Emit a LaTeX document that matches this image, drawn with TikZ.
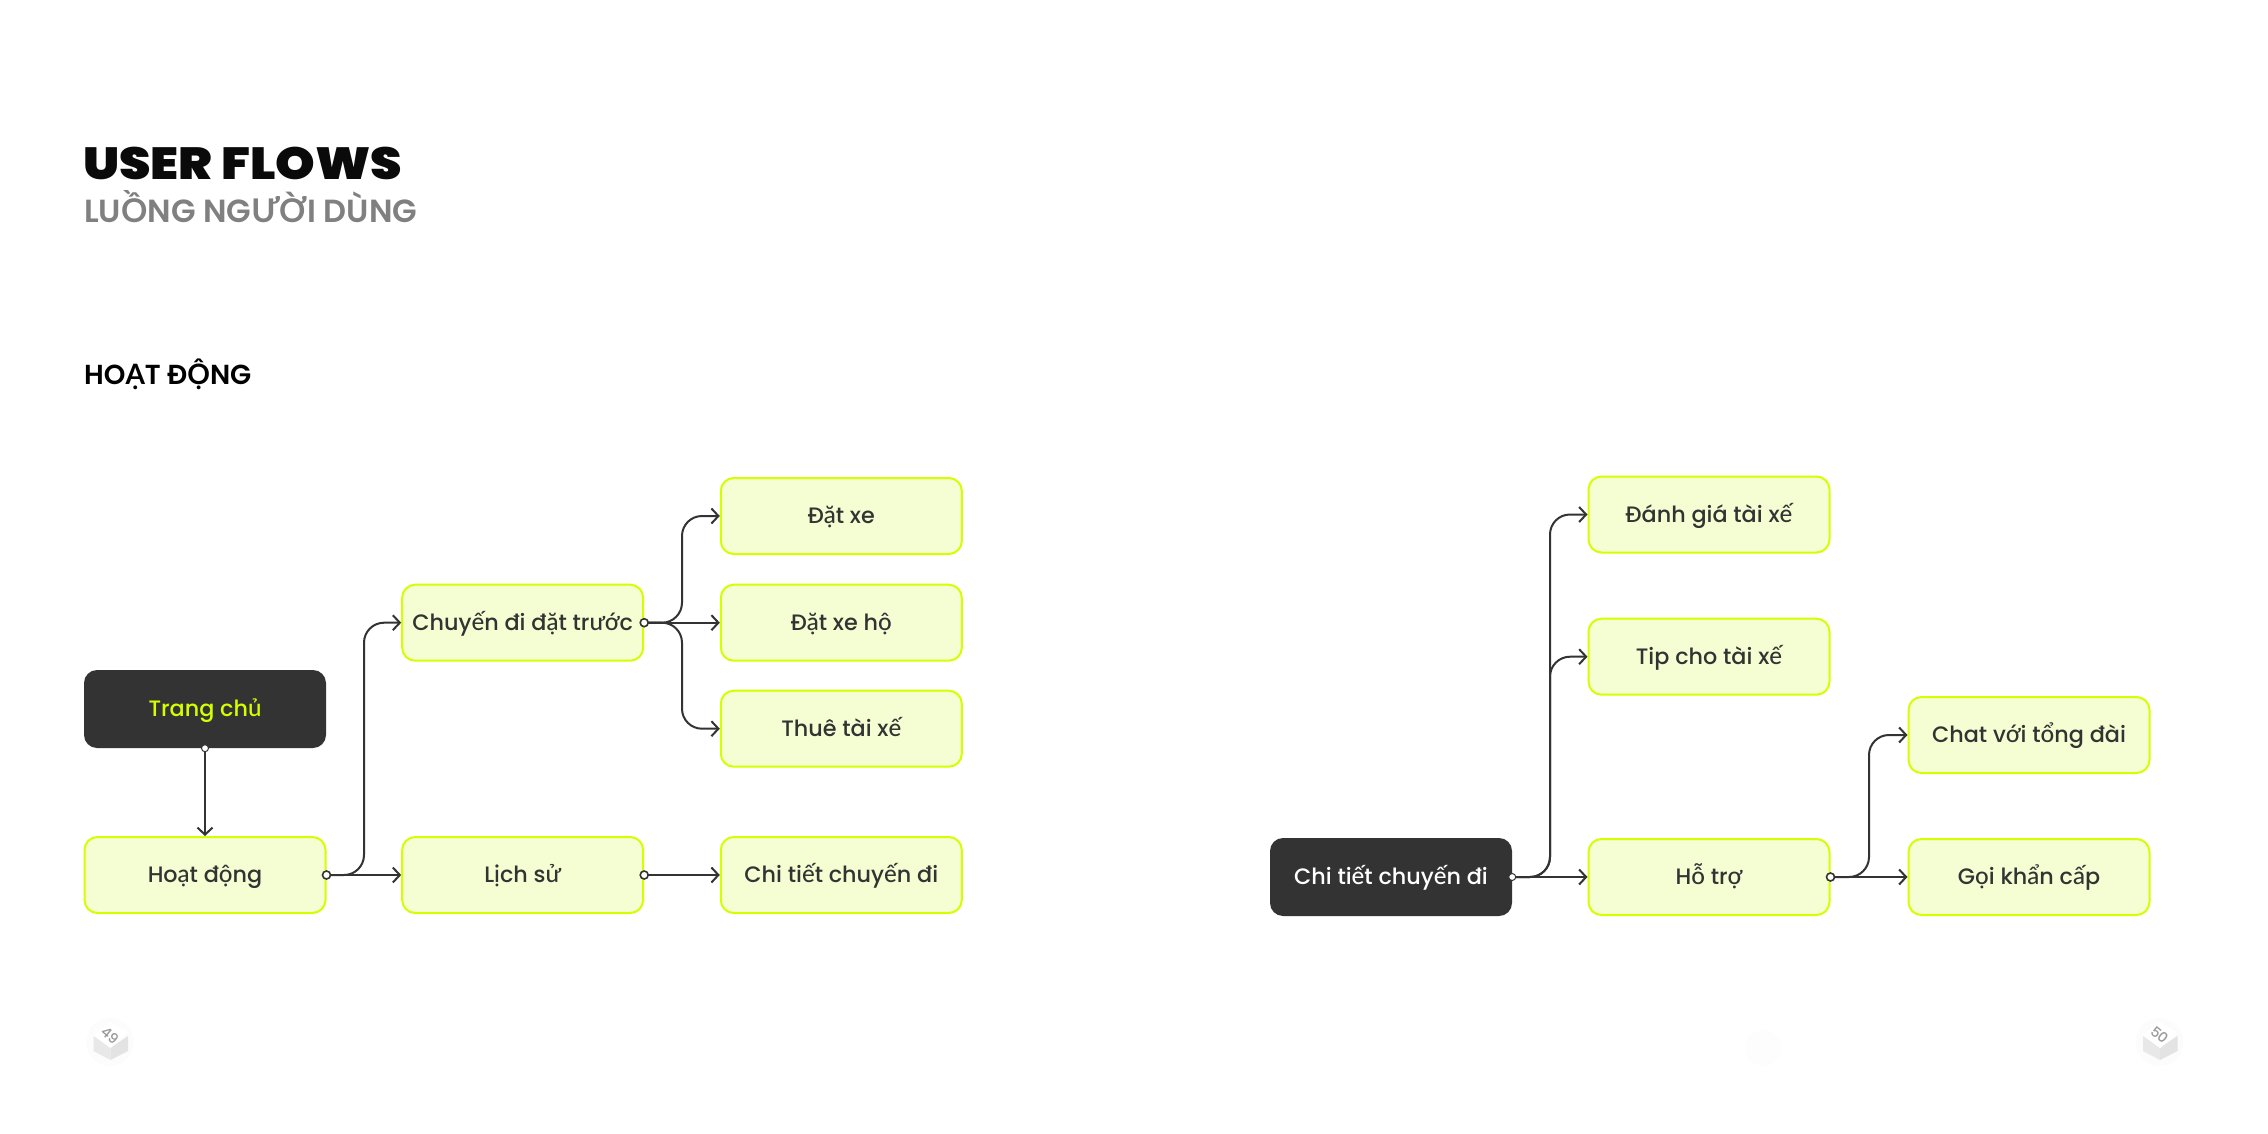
\documentclass[tikz,border=0pt]{standalone}
\usepackage{fontspec}
\setmainfont{Poppins}[UprightFont=* Medium,BoldFont=* SemiBold]
\newfontfamily\vnreg{Lato}[Scale=1.08,UprightFont=* Medium]
\newfontfamily\vnbold{Lato}[Scale=1.02,UprightFont=* Bold]
\newfontfamily\heavy{Poppins}[UprightFont=* Black]
\newfontfamily\semi{Poppins}[UprightFont=* SemiBold]
\newcommand{\vr}[1]{{\vnreg #1}}
\newcommand{\vb}[1]{{\vnbold #1}}
\definecolor{lime}{HTML}{D4FF00}
\definecolor{limefill}{HTML}{F5FDD2}
\definecolor{ink}{HTML}{333333}
\usetikzlibrary{arrows.meta}
\tikzset{
  x=1pt,y=-1pt,
  boxbase/.style={rounded corners=13pt,minimum width=241pt,minimum height=76pt,inner sep=0pt,text height=19pt,text depth=4pt,font=\fontsize{22.3}{28}\selectfont},
  lightbox/.style={boxbase,draw=lime,line width=2pt,fill=limefill,text=ink},
  darkbox/.style={boxbase,fill=ink,minimum width=242pt,minimum height=78pt},
  flow/.style={draw=ink,line width=2pt,rounded corners=20pt},
  arrowhead/.style={-{Straight Barb[length=7pt,width=15pt,line width=2pt]}},
  portdot/.style={circle,draw=ink,fill=white,line width=1.6pt,minimum size=8pt,inner sep=0pt},
  wdot/.style={circle,fill=white,minimum size=7pt,inner sep=0pt,draw=ink,line width=1pt},
}
\begin{document}
\begin{tikzpicture}
\useasboundingbox (0,0) rectangle (2268,1134);
\node[anchor=base west,inner sep=0,font=\fontsize{45}{50}\selectfont\heavy,text=black!96] (t1) at (83,180) {\scalebox{1.12}[1]{USER FLOWS}};
\node[anchor=base west,inner sep=0,text=black!50,font=\fontsize{32}{38}\selectfont\semi] (t2) at (84,223) {LU\vb{Ồ}NG NG\vb{ƯỜ}I DÙNG};
\node[anchor=base west,inner sep=0,text=black,font=\fontsize{27.5}{32}\selectfont\semi] (t3) at (84,384) {HO\vb{Ạ}T Đ\vb{Ộ}NG};

\node[darkbox,text=lime] (home) at (205,709) {Trang ch\vr{ủ}};
\node[lightbox] (act) at (205,875) {Ho\vr{ạ}t đ\vr{ộ}ng};
\node[lightbox] (pre) at (522.7,622.7) {Chuy\vr{ế}n đi đ\vr{ặ}t tr\vr{ướ}c};
\node[lightbox] (hist) at (522.7,875) {L\vr{ị}ch s\vr{ử}};
\node[lightbox] (b1) at (841.3,516) {Đ\vr{ặ}t xe};
\node[lightbox] (b2) at (841.3,622.7) {Đ\vr{ặ}t xe h\vr{ộ}};
\node[lightbox] (b3) at (841.3,728.7) {Thuê tài x\vr{ế}};
\node[lightbox] (b4) at (841.3,875) {Chi ti\vr{ế}t chuy\vr{ế}n đi};

\node[darkbox,text=white] (det) at (1391,877) {Chi ti\vr{ế}t chuy\vr{ế}n đi};
\node[lightbox] (r1) at (1709,514.5) {Đánh giá tài x\vr{ế}};
\node[lightbox] (r2) at (1709,656.7) {Tip cho tài x\vr{ế}};
\node[lightbox] (r3) at (1709,877) {H\vr{ỗ} tr\vr{ợ}};
\node[lightbox] (r4) at (2029,735) {Chat v\vr{ớ}i t\vr{ổ}ng đài};
\node[lightbox] (r5) at (2029,877) {G\vr{ọ}i kh\vr{ẩ}n c\vr{ấ}p};

\draw[flow,arrowhead] (home.south) -- (act.north);
\draw[flow,arrowhead] (act.east) -- (hist.west);
\draw[flow,arrowhead] (act.east) -| (364,622.7) -- (pre.west);
\draw[flow,arrowhead] (pre.east) -- (b2.west);
\draw[flow,arrowhead] (pre.east) -| (682,516) -- (b1.west);
\draw[flow,arrowhead] (pre.east) -| (682,728.7) -- (b3.west);
\draw[flow,arrowhead] (hist.east) -- (b4.west);
\draw[flow,arrowhead] (det.east) -- (r3.west);
\draw[flow,arrowhead] (det.east) -| (1550,514.5) -- (r1.west);
\draw[flow,arrowhead] (det.east) -| (1550,656.7) -- (r2.west);
\draw[flow,arrowhead] (r3.east) -- (r5.west);
\draw[flow,arrowhead] (r3.east) -| (1869,735) -- (r4.west);

\node[wdot] at (home.south) {};
\node[portdot] at (act.east) {};
\node[portdot] at (pre.east) {};
\node[portdot] at (hist.east) {};
\node[wdot] at (det.east) {};
\node[portdot] at (r3.east) {};

\fill[black!0.6] (1763,1048) circle (18);
\foreach \dx/\num in {0/49,2049.5/50}{
\begin{scope}[xshift=\dx]
\fill[black!1.2] (110,1042) circle (24);
\fill[black!9] (93.5,1036) -- (110.5,1048) -- (110.5,1060) -- (93.5,1051) -- cycle;
\fill[black!11] (128,1036) -- (110.5,1048) -- (110.5,1060) -- (128,1051) -- cycle;
\fill[white] (93.5,1035) -- (110,1022) -- (128,1032) -- (110.5,1048) -- cycle;
\node[rotate=-40,text=black!40,font=\fontsize{14}{14}\selectfont,inner sep=0] (n\num) at (110,1035) {\num};
\end{scope}}
\end{tikzpicture}
\end{document}
